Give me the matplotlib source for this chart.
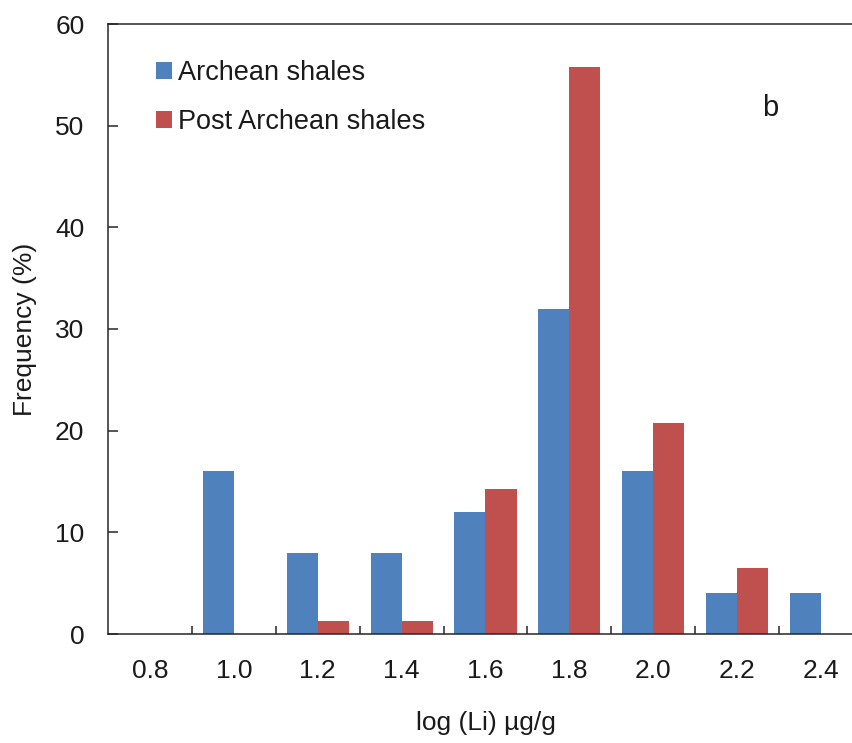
import matplotlib
matplotlib.use("Agg")
import matplotlib.pyplot as plt
import numpy as np

# log(Li) bins and frequency (%) for each shale group
bins = ["0.8", "1.0", "1.2", "1.4", "1.6", "1.8", "2.0", "2.2", "2.4"]
archean = [0, 16, 8, 8, 12, 32, 16, 4, 4]
post_archean = [0, 0, 1.3, 1.3, 14.3, 55.8, 20.8, 6.5, 0]

plt.rcParams["font.family"] = ["Liberation Sans", "DejaVu Sans"]
FS = 19
TXT = "#1a1a1a"

fig = plt.figure(figsize=(8.52, 7.43), dpi=100)
W, H = 852, 743
left, right, top, bottom = 108, 863, 24, 634
ax = fig.add_axes([left / W, 1 - bottom / H, (right - left) / W, (bottom - top) / H])

x = np.arange(len(bins))
bw = 0.37
ax.bar(x - bw / 2, archean, width=bw, color="#4F81BD", label="Archean shales", zorder=2)
ax.bar(x + bw / 2, post_archean, width=bw, color="#C0504D", label="Post Archean shales", zorder=2)

ax.set_xlim(-0.5, len(bins) - 0.5)
ax.set_ylim(0, 60)
ax.set_yticks(np.arange(0, 61, 10))

ax.set_xticks(x)
ax.set_xticklabels(bins)
ax.set_xticks(np.arange(0.5, len(bins) - 0.5, 1), minor=True)
ax.tick_params(axis="x", which="major", length=0, pad=18, labelsize=FS, labelcolor=TXT)
ax.tick_params(axis="x", which="minor", direction="in", length=6, width=1.1, color="#262626")
ax.tick_params(axis="y", direction="in", length=7, width=1.1, color="#262626",
               pad=17, labelsize=FS, labelcolor=TXT)

for side in ("left", "bottom", "top"):
    ax.spines[side].set_linewidth(1.1)
    ax.spines[side].set_color("#262626")
ax.spines["right"].set_visible(False)

ax.set_xlabel("log (Li) \u00b5g/g", fontsize=FS, color=TXT)
ax.xaxis.set_label_coords((486 - left) / (right - left), -(723 - bottom) / (bottom - top))
ax.xaxis.label.set_va("center")
ax.set_ylabel("Frequency (%)", fontsize=FS, color=TXT)
ax.yaxis.set_label_coords(-(left - 25) / (right - left), 0.5)
ax.yaxis.label.set_va("center")

ax.text((770 - left) / (right - left), (bottom - 108) / (bottom - top), "b",
        transform=ax.transAxes, ha="center", va="center", fontsize=21, color=TXT)

leg = ax.legend(loc="upper left",
                bbox_to_anchor=((156 - left) / (right - left), (bottom - 60) / (bottom - top)),
                frameon=False, fontsize=19.5, handlelength=0.6, handleheight=0.6,
                handletextpad=0.2, labelspacing=0.85, borderpad=0, borderaxespad=0)
for t in leg.get_texts():
    t.set_color(TXT)

fig.savefig("out.png", dpi=100)
